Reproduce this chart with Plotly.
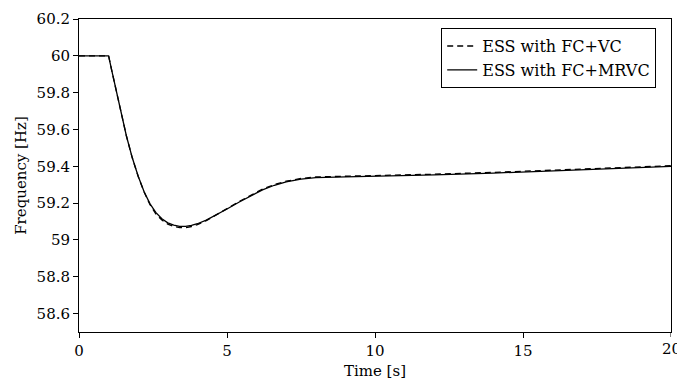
import plotly.graph_objects as go

# Time axis samples [s]
time_s = [0, 1.0, 1.1, 1.2, 1.4, 1.6, 1.8, 2.0, 2.2, 2.4, 2.6, 2.8, 3.0, 3.2, 3.4,
          3.6, 3.8, 4.0, 4.3, 4.6, 5.0, 5.4, 5.8, 6.2, 6.6, 7.0, 7.5, 8.0, 9.0,
          10, 12, 14, 16, 18, 20]

# ESS with FC+MRVC (solid)
freq_mrvc = [60, 60, 59.925, 59.85, 59.702, 59.566, 59.446, 59.346, 59.262, 59.196, 59.148,
             59.115, 59.093, 59.080, 59.074, 59.074, 59.079, 59.088, 59.108, 59.132,
             59.168, 59.205, 59.240, 59.272, 59.297, 59.315, 59.330, 59.338, 59.342,
             59.345, 59.353, 59.363, 59.375, 59.387, 59.400]

# ESS with FC+VC (dashed)
freq_vc = [60, 60, 59.925, 59.85, 59.702, 59.566, 59.446, 59.345, 59.260, 59.191, 59.141,
           59.108, 59.086, 59.073, 59.067, 59.067, 59.073, 59.083, 59.105, 59.131,
           59.170, 59.208, 59.244, 59.276, 59.301, 59.319, 59.334, 59.342, 59.346,
           59.349, 59.357, 59.367, 59.378, 59.390, 59.403]

x_ticks = [0, 5, 10, 15, 20]
x_tick_text = ["0", "5", "10", "15", "20"]
y_ticks = [58.6, 58.8, 59, 59.2, 59.4, 59.6, 59.8, 60, 60.2]
y_tick_text = ["58.6", "58.8", "59", "59.2", "59.4", "59.6", "59.8", "60", "60.2"]

FONT = "DejaVu Serif"
FS = 15

fig = go.Figure()
fig.add_trace(go.Scatter(x=time_s, y=freq_vc, mode="lines", name="ESS with FC+VC",
                         line=dict(color="black", width=1.3, dash="6px,4px")))
fig.add_trace(go.Scatter(x=time_s, y=freq_mrvc, mode="lines", name="ESS with FC+MRVC",
                         line=dict(color="black", width=1.3)))

axis_common = dict(showgrid=False, zeroline=False, showline=True, linecolor="black",
                   linewidth=1, mirror=True, ticks="outside", ticklen=5,
                   tickcolor="black", tickwidth=1,
                   tickfont=dict(family=FONT, size=FS, color="black"))

# tick label at the far right edge (clipped by the page, like the reference)
fig.add_annotation(x=x_ticks[-1], y=0, xref="x", yref="paper", text=x_tick_text[-1],
                   showarrow=False, yanchor="top", xanchor="center", yshift=-6,
                   font=dict(family=FONT, size=FS, color="black"))
# tick mark at x=20
fig.add_shape(type="line", xref="x", yref="paper", x0=x_ticks[-1], x1=x_ticks[-1],
              y0=0, y1=-0.016, line=dict(color="black", width=1))

fig.update_layout(
    width=677, height=383,
    margin=dict(l=79, r=6, t=19, b=51),
    plot_bgcolor="white", paper_bgcolor="white",
    font=dict(family=FONT, size=FS, color="black"),
    xaxis=dict(range=[0, 20], tickvals=x_ticks[:-1], ticktext=x_tick_text[:-1],
               title=dict(text="Time [s]", font=dict(family=FONT, size=FS), standoff=6),
               **axis_common),
    yaxis=dict(range=[58.5, 60.2], tickvals=y_ticks, ticktext=y_tick_text,
               title=dict(text="Frequency [Hz]", font=dict(family=FONT, size=FS), standoff=6),
               **axis_common),
    legend=dict(x=0.975, y=0.971, xanchor="right", yanchor="top",
                bgcolor="white", bordercolor="black", borderwidth=1,
                font=dict(family=FONT, size=16), tracegroupgap=0),
    showlegend=True,
)

fig.write_html("out.html")
